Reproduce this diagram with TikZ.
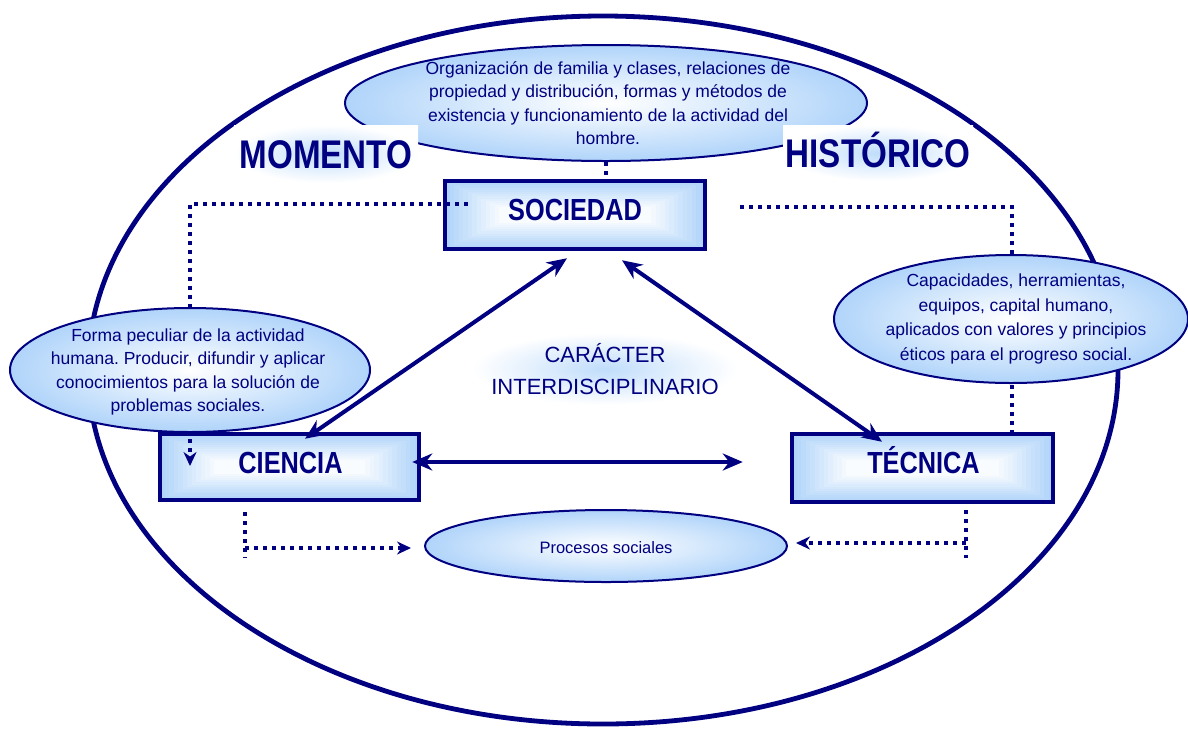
\documentclass[tikz,border=0pt]{standalone}
\usepackage{fontspec}
\setmainfont{Liberation Sans}
\newfontfamily\nb[FakeStretch=0.83]{Liberation Sans}
\frenchspacing
\usetikzlibrary{shapes.geometric,arrows.meta,calc}
\definecolor{navy}{RGB}{0,0,128}
\definecolor{lblue}{RGB}{176,212,250}
\tikzset{
 ellfill/.style={ellipse, draw=navy, line width=2pt, inner color=white, outer color=lblue, inner sep=0pt},
 boxfill/.style={rectangle, draw=navy, line width=4.5pt, fill=lblue, inner sep=0pt,
   path picture={
     \foreach \i in {1,...,12}{
       \pgfmathtruncatemacro\p{\i*100/13}
       \fill[white!\p!lblue] ([shift={(\i*4.5pt,\i*2.2pt)}]path picture bounding box.south west) rectangle ([shift={(-\i*4.5pt,-\i*2.2pt)}]path picture bounding box.north east);
     }}},
 smalltxt/.style={text=navy, align=center, inner sep=0pt, font=\fontsize{17.5}{23.5}\selectfont},
 bigtxt/.style={text=navy, inner sep=0pt, text height=21.8pt, text depth=0pt, font=\nb\bfseries\fontsize{30.5}{36}\selectfont},
 titletxt/.style={text=navy, inner sep=0pt, text height=28.6pt, text depth=0pt, font=\nb\bfseries\fontsize{40}{48}\selectfont,
   rectangle, inner color=lblue!80!white, outer color=white},
 glowtxt/.style={text=navy, align=center, inner sep=0pt, font=\fontsize{22}{32}\selectfont,
   rectangle, inner color=lblue!80!white, outer color=white},
 bigarrow/.style={draw=navy, line width=4pt, {Stealth[length=20pt,width=17pt]}-{Stealth[length=20pt,width=17pt]}},
 dotline/.style={draw=navy, line width=3.8pt, dash pattern=on 3.8pt off 5.2pt},
 dotarrow/.style={dotline, -{Stealth[length=14pt,width=13pt]}},
}
\begin{document}
\begin{tikzpicture}[x=1pt,y=-1pt]
\useasboundingbox (0,0) rectangle (1188,729);
% world ellipse
\node[ellipse, draw=navy, line width=4.8pt, minimum width=1030pt, minimum height=708pt, inner sep=0pt] (world) at (603,370) {};
% boxes
\node[boxfill, minimum width=260pt, minimum height=68pt] (soc) at (575,215) {};
\node[boxfill, minimum width=259pt, minimum height=66pt] (cie) at (289.5,467) {};
\node[boxfill, minimum width=261pt, minimum height=68pt] (tec) at (922.5,468) {};
% free ends
\coordinate (dl) at (190,466);
\coordinate (rtop) at (1012,434);
\coordinate (bl1) at (245,512);
\coordinate (bl2) at (245,558);
\coordinate (blh) at (245,548);
\coordinate (br1) at (966,510);
\coordinate (br2) at (966,558);
\coordinate (brh) at (966,543);
% dotted connectors
\draw[dotarrow] ([shift={(25,-11)}]soc.west) -| (dl);
\draw[dotline] ([shift={(33,-8)}]soc.east) -| (rtop);
% ellipses
\node[ellfill, minimum width=522pt, minimum height=116pt] (famE) at (606,103) {};
\node[ellfill, minimum width=360pt, minimum height=124pt] (lE) at (190,370) {};
\node[ellfill, minimum width=354pt, minimum height=128pt] (rE) at (1011,319) {};
\node[ellfill, minimum width=362pt, minimum height=72pt] (proE) at (606,546) {};
\draw[dotline] (famE.south) -- (famE.south |- soc.north);
% bottom dotted
\draw[dotline] (bl1) -- (bl2);
\draw[dotarrow] (blh) -- ([shift={(-13,2)}]proE.west);
\draw[dotline] (br1) -- (br2);
\draw[dotarrow] (brh) -- ([shift={(8,-3)}]proE.east);
% ellipse texts
\node[smalltxt] (famT) at (608,103) {Organización de familia y clases, relaciones de\\propiedad y distribución, formas y métodos de\\existencia y funcionamiento de la actividad del\\hombre.};
\node[smalltxt] (lT) at (188,372) {Forma peculiar de la actividad\\humana. Producir, difundir y aplicar\\conocimientos para la solución de\\problemas sociales.};
\node[smalltxt, font=\fontsize{17.5}{24.5}\selectfont] (rT) at (1016,319) {Capacidades, herramientas,\\equipos, capital humano,\\aplicados con valores y principios\\éticos para el progreso social.};
\node[smalltxt, font=\fontsize{16.5}{20}\selectfont] (proT) at (606,548) {Procesos sociales};
% titles
\node[titletxt, minimum width=184pt, minimum height=58pt] (mom) at (326,154) {MOMENTO};
\node[titletxt, minimum width=190pt, minimum height=56pt] (his) at (878,153) {HISTÓRICO};
\node[glowtxt, minimum width=265pt, minimum height=72pt] (car) at (605,369) {CARÁCTER\\INTERDISCIPLINARIO};
% main arrows
\draw[bigarrow] ([shift={(-8,7)}]soc.south) -- ([shift={(15.5,7)}]cie.north);
\draw[bigarrow] ([shift={(47,9)}]soc.south) -- ([shift={(-40.5,10)}]tec.north);
\draw[bigarrow] ([shift={(-9,-5)}]cie.east) -- ([shift={(-47,-6)}]tec.west);
% box texts
\node[bigtxt] (socT) at (575,210) {SOCIEDAD};
\node[bigtxt] (cieT) at (290.5,463) {CIENCIA};
\node[bigtxt] (tecT) at (923.5,463) {TÉCNICA};
\end{tikzpicture}
\end{document}
